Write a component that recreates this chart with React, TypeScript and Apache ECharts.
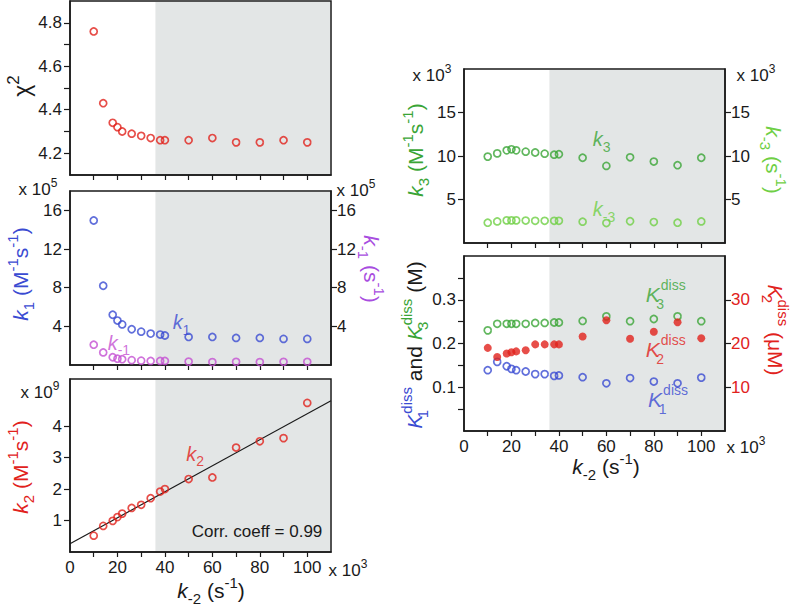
import React, { useEffect, useRef } from 'react';
import * as echarts from 'echarts';

const FONT = '"Liberation Sans", Arial, Helvetica, sans-serif';

// ---- data ----
const X_VALS = [10, 14, 18, 20, 22, 26, 30, 34, 38, 40, 50, 60, 70, 80, 90, 100];
const CHI2 = [4.76, 4.43, 4.34, 4.32, 4.30, 4.29, 4.28, 4.27, 4.26, 4.26, 4.26, 4.27, 4.25, 4.25, 4.26, 4.25];
const K1 = [14.95, 8.2, 5.2, 4.6, 4.2, 3.7, 3.45, 3.25, 3.15, 3.05, 2.9, 2.9, 2.8, 2.8, 2.7, 2.7];
const KM1 = [2.1, 1.3, 0.8, 0.65, 0.6, 0.5, 0.45, 0.42, 0.42, 0.42, 0.35, 0.3, 0.33, 0.3, 0.33, 0.33];
const K2 = [0.52, 0.83, 0.99, 1.11, 1.22, 1.40, 1.50, 1.71, 1.92, 2.0, 2.32, 2.37, 3.32, 3.52, 3.62, 4.74];
const K2_FIT = [[0, 0.26], [110, 4.81]];
const K3 = [9.93, 10.3, 10.65, 10.77, 10.65, 10.5, 10.4, 10.27, 10.15, 10.2, 9.8, 8.86, 9.85, 9.36, 8.94, 9.8];
const KM3 = [2.33, 2.48, 2.6, 2.6, 2.6, 2.58, 2.55, 2.55, 2.55, 2.55, 2.45, 2.29, 2.5, 2.41, 2.33, 2.48];
const K1DISS = [0.139, 0.158, 0.148, 0.142, 0.139, 0.136, 0.130, 0.130, 0.126, 0.127, 0.123, 0.109, 0.121, 0.113, 0.109, 0.122];
const K2DISS = [19.0, 16.9, 17.7, 18.0, 18.2, 18.45, 19.8, 19.8, 19.8, 19.8, 21.6, 25.3, 21.1, 22.7, 24.85, 21.2];
const K3DISS = [0.230, 0.245, 0.245, 0.245, 0.245, 0.245, 0.247, 0.247, 0.248, 0.248, 0.2515, 0.262, 0.251, 0.256, 0.262, 0.251];

const SHADE_START = 36;
const X_MIN = 0;
const X_MAX = 110;
const X_TICKS = [10, 20, 30, 40, 50, 60, 70, 80, 90, 100];
const X_LABELS = [0, 20, 40, 60, 80, 100];

const CHI2_TICKS = [4.2, 4.3, 4.4, 4.5, 4.6, 4.7, 4.8];
const CHI2_LABELS = [4.2, 4.4, 4.6, 4.8];
const K1_TICKS = [4, 8, 12, 16];
const K2_TICKS = [1, 2, 3, 4];
const K3_TICKS = [5, 10, 15];
const KD_TICKS = [0.05, 0.1, 0.15, 0.2, 0.25, 0.3, 0.35];
const KD_LABELS = [0.1, 0.2, 0.3];
const K2D_TICKS = [10, 20, 30];

// annotation positions (data coords)
const POS_K1 = [47, 4.4];
const POS_KM1 = [20.6, 2.3];
const POS_K2 = [52.7, 3.12];
const POS_K3 = [58, 11.9];
const POS_KM3 = [59, 3.9];
const POS_K3D = [85, 0.313];
const POS_K2D = [85, 0.186];
const POS_K1D = [86, 0.071];

// ---- style ----
const RED = '#e1221c';
const BLUE = '#3a4bd2';
const MAGENTA = '#c450d2';
const MAGENTA_T = '#a84de0';
const GREEN = '#3aa536';
const LGREEN = '#6fcf45';
const SHADE = '#e3e6e6';
const INK = '#1a1a1a';

function mkRich(p: string, color: string, size: number, subSize?: number, lineH?: number) {
  const base = { color, fill: color, fontFamily: FONT };
  const s = subSize || Math.round(size * 0.72);
  const lh = lineH || Math.ceil(s * 2 + 1);
  return {
    [p + 'n']: { ...base, fontSize: size, lineHeight: lh },
    [p + 'i']: { ...base, fontSize: size, fontStyle: 'italic', lineHeight: lh },
    [p + 'b']: { ...base, fontSize: s, lineHeight: s, verticalAlign: 'bottom' },
    [p + 'bn']: { ...base, fontSize: s, lineHeight: s, verticalAlign: 'bottom', width: 1 },
    [p + 'p']: { ...base, fontSize: s, lineHeight: s, verticalAlign: 'top' },
  };
}

const grids = [
  { left: 70, top: 1, width: 261, height: 174 },
  { left: 70, top: 191, width: 261, height: 174 },
  { left: 70, top: 379, width: 261, height: 173 },
  { left: 464, top: 69, width: 261, height: 174 },
  { left: 464, top: 256, width: 261, height: 175 },
].map((g) => ({ ...g, show: true, borderColor: INK, borderWidth: 1.5, backgroundColor: 'transparent', containLabel: false }));

const xAxes = [0, 1, 2, 3, 4].map((i) => ({
  type: 'value',
  gridIndex: i,
  min: X_MIN,
  max: X_MAX,
  splitLine: { show: false },
  axisLine: { show: true, onZero: false, lineStyle: { color: INK, width: 1.5 } },
  axisTick: { show: true, inside: false, length: 5, customValues: X_TICKS, lineStyle: { color: INK, width: 1.2 } },
  axisLabel: {
    show: i === 2 || i === 4,
    customValues: X_LABELS,
    fontSize: 17,
    color: INK,
    fontFamily: FONT,
    margin: 7,
  },
}));

function yAx(grid: number, pos: string, min: number, max: number, ticks: number[], labels: number[], color: string, fmt?: (v: number) => string) {
  return {
    type: 'value',
    gridIndex: grid,
    position: pos,
    min,
    max,
    splitLine: { show: false },
    axisLine: { show: true, onZero: false, lineStyle: { color: INK, width: 1.5 } },
    axisTick: { show: true, inside: false, length: 6, customValues: ticks, lineStyle: { color: INK, width: 1.2 } },
    axisLabel: {
      show: true,
      customValues: labels,
      fontSize: 17,
      color,
      fontFamily: FONT,
      margin: pos === 'left' ? 8 : 6,
      formatter: fmt || ((v: number) => String(v)),
    },
  };
}

const yAxes = [
  yAx(0, 'left', 4.1, 4.9, CHI2_TICKS, CHI2_LABELS, INK, (v) => v.toFixed(1)),
  yAx(1, 'left', 0, 18, K1_TICKS, K1_TICKS, INK),
  yAx(1, 'right', 0, 18, K1_TICKS, K1_TICKS, INK),
  yAx(2, 'left', 0, 5.5, K2_TICKS, K2_TICKS, INK),
  yAx(3, 'left', 0, 20, K3_TICKS, K3_TICKS, INK),
  yAx(3, 'right', 0, 20, K3_TICKS, K3_TICKS, INK),
  yAx(4, 'left', 0, 0.4, KD_TICKS, KD_LABELS, INK, (v) => v.toFixed(1)),
  yAx(4, 'right', 0, 40, K2D_TICKS, K2D_TICKS, RED),
];

const pts = (ys: number[]) => X_VALS.map((x, i) => [x, ys[i]]);

function openScatter(xi: number, yi: number, ys: number[], color: string) {
  return {
    type: 'scatter',
    xAxisIndex: xi,
    yAxisIndex: yi,
    data: pts(ys),
    symbol: 'circle',
    symbolSize: 7,
    itemStyle: { color: 'rgba(0,0,0,0)', borderColor: color, borderWidth: 1.7 },
    z: 3,
    silent: true,
  };
}

function shade(xi: number, yi: number) {
  return {
    type: 'custom',
    xAxisIndex: xi,
    yAxisIndex: yi,
    data: [[SHADE_START, X_MAX]],
    silent: true,
    z: 1,
    renderItem: (params: any, api: any) => {
      const cs = params.coordSys;
      const x0 = api.coord([api.value(0), 0])[0];
      const x1 = api.coord([api.value(1), 0])[0];
      return {
        type: 'rect',
        shape: { x: x0, y: cs.y + 1, width: x1 - x0 - 1, height: cs.height - 2 },
        style: { fill: SHADE },
      };
    },
  };
}

function annot(xi: number, yi: number, pos: number[], text: string, rich: any) {
  return {
    type: 'scatter',
    xAxisIndex: xi,
    yAxisIndex: yi,
    data: [pos],
    symbolSize: 1,
    itemStyle: { color: 'rgba(0,0,0,0)' },
    silent: true,
    z: 5,
    label: { show: true, position: 'inside', formatter: text, rich },
  };
}

const series: any[] = [
  shade(0, 0), shade(1, 1), shade(2, 3), shade(3, 4), shade(4, 6),
  openScatter(0, 0, CHI2, RED),
  openScatter(1, 1, K1, BLUE),
  openScatter(1, 2, KM1, MAGENTA),
  {
    type: 'line',
    xAxisIndex: 2,
    yAxisIndex: 3,
    data: K2_FIT,
    showSymbol: false,
    symbol: 'none',
    lineStyle: { color: INK, width: 1.2 },
    z: 2,
    silent: true,
  },
  openScatter(2, 3, K2, RED),
  openScatter(3, 4, K3, GREEN),
  openScatter(3, 5, KM3, LGREEN),
  openScatter(4, 6, K3DISS, GREEN),
  openScatter(4, 6, K1DISS, BLUE),
  {
    type: 'scatter',
    xAxisIndex: 4,
    yAxisIndex: 7,
    data: pts(K2DISS),
    symbol: 'circle',
    symbolSize: 8,
    itemStyle: { color: RED },
    z: 4,
    silent: true,
  },
  annot(1, 1, POS_K1, '{ai|k}{ab|1}', mkRich('a', BLUE, 20)),
  annot(1, 1, POS_KM1, '{ai|k}{ab|-1}', mkRich('a', MAGENTA, 20)),
  annot(2, 3, POS_K2, '{ai|k}{ab|2}', mkRich('a', RED, 20)),
  annot(3, 4, POS_K3, '{ai|k}{ab|3}', mkRich('a', GREEN, 20)),
  annot(3, 4, POS_KM3, '{ai|k}{ab|-3}', mkRich('a', LGREEN, 20)),
  annot(4, 6, POS_K3D, '{ai|K}{abn|3}{ap|diss}', mkRich('a', GREEN, 21, 14, 33)),
  annot(4, 6, POS_K2D, '{ai|K}{abn|2}{ap|diss}', mkRich('a', RED, 21, 14, 33)),
  annot(4, 6, POS_K1D, '{ai|K}{abn|1}{ap|diss}', mkRich('a', BLUE, 21, 14, 33)),
];

function gtext(x: number, y: number, text: string, rich: any, rotation = 0, color = INK, size = 17) {
  return {
    type: 'text',
    x,
    y,
    rotation,
    silent: true,
    z: 10,
    style: {
      text,
      rich,
      fill: color,
      fontSize: size,
      fontFamily: FONT,
      align: 'center',
      verticalAlign: 'middle',
    },
  };
}

const UP = Math.PI / 2;
const DOWN = -Math.PI / 2;
const TS = 21;
const x10 = (e: string) => `{tn|x 10}{tp|${e}}`;
const inkRich = mkRich('t', INK, 17);

const graphics = [
  gtext(22, 86, '{gn|χ}{gp|2}', mkRich('g', INK, 23), UP),
  gtext(20, 274, '{ci|k}{cb|1}{cn| (M}{cp|-1}{cn|s}{cp|-1}{cn|)}', mkRich('c', BLUE, TS), UP),
  gtext(38, 189, x10('5'), inkRich),
  gtext(356, 190, x10('5'), inkRich),
  gtext(371, 269, '{ci|k}{cb|-1}{cn| (s}{cp|-1}{cn|)}', mkRich('c', MAGENTA_T, TS), DOWN),
  gtext(40, 392, x10('9'), inkRich),
  gtext(20, 467, '{ci|k}{cb|2}{cn| (M}{cp|-1}{cn|s}{cp|-1}{cn|)}', mkRich('c', RED, TS), UP),
  gtext(257, 531, '{tn|Corr. coeff = 0.99}', inkRich),
  gtext(211, 590, '{ci|k}{cb|-2}{cn| (s}{cp|-1}{cn|)}', mkRich('c', INK, TS)),
  gtext(348, 570, x10('3'), inkRich),
  gtext(606, 466, '{ci|k}{cb|-2}{cn| (s}{cp|-1}{cn|)}', mkRich('c', INK, TS)),
  gtext(746, 447, x10('3'), inkRich),
  gtext(432, 75, x10('3'), inkRich),
  gtext(756, 75, x10('3'), inkRich),
  gtext(415, 150, '{ci|k}{cb|3}{cn| (M}{cp|-1}{cn|s}{cp|-1}{cn|)}', mkRich('c', GREEN, TS), UP),
  gtext(773, 160, '{ci|k}{cb|-3}{cn| (s}{cp|-1}{cn|)}', mkRich('c', LGREEN, TS), DOWN),
  gtext(
    414,
    345,
    '{bi|K}{bbn|1}{bp|diss}{kn| and }{gi|K}{gbn|3}{gp|diss}{kn| (M)}',
    { ...mkRich('b', BLUE, TS), ...mkRich('k', INK, TS), ...mkRich('g', GREEN, TS) },
    UP,
  ),
  gtext(775, 330, '{ri|K}{rbn|2}{rp|diss}{rn| (μM)}', mkRich('r', RED, TS), DOWN),
];

const option = {
  animation: false,
  backgroundColor: '#ffffff',
  grid: grids,
  xAxis: xAxes,
  yAxis: yAxes,
  series,
  graphic: graphics,
};

export default function App() {
  const ref = useRef<HTMLDivElement>(null);
  useEffect(() => {
    const chart = echarts.init(ref.current!, null, { renderer: 'svg' });
    chart.setOption(option as any);
    return () => chart.dispose();
  }, []);
  return (
    <div
      ref={ref}
      style={{ position: 'absolute', left: 0, top: 0, width: 793, height: 605, background: '#fff' }}
    />
  );
}
